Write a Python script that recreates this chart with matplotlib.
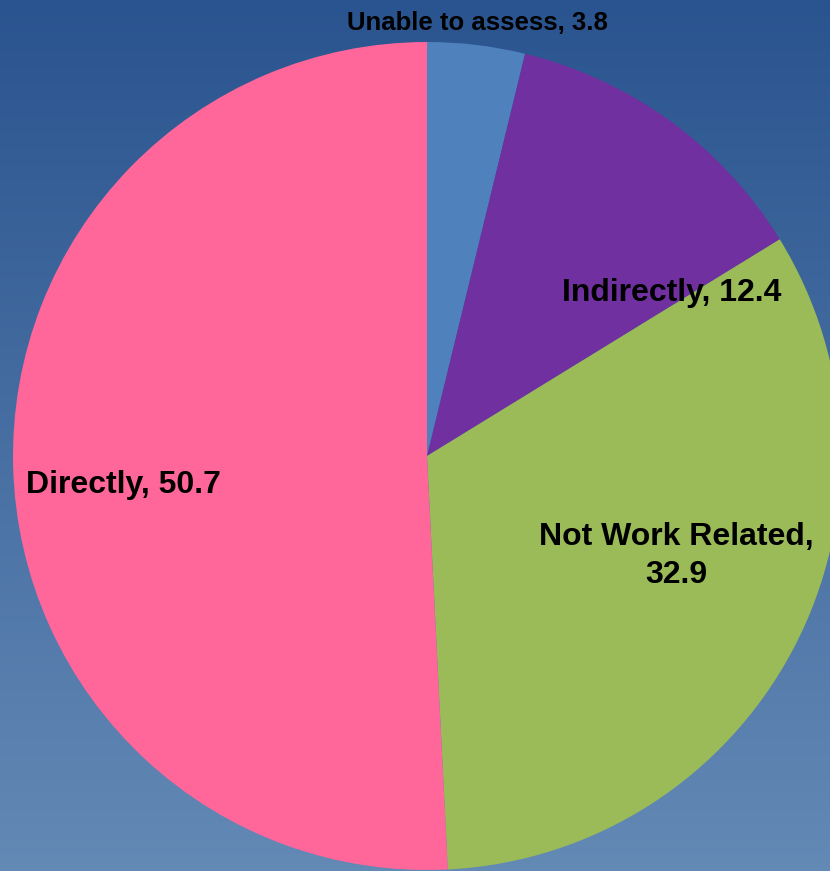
import numpy as np
import matplotlib
matplotlib.use('Agg')
import matplotlib.pyplot as plt
from matplotlib.colors import LinearSegmentedColormap

# data
categories = ['Unable to assess', 'Indirectly', 'Not Work Related', 'Directly']
values = [3.8, 12.4, 32.9, 50.7]
colors = ['#4f81bd', '#7030a0', '#9bbb59', '#ff6699']
label_texts = ['Unable to assess, 3.8', 'Indirectly, 12.4',
               'Not Work Related,\n32.9', 'Directly, 50.7']

plt.rcParams['font.family'] = ['Liberation Sans', 'DejaVu Sans']

W, H = 830, 871
fig = plt.figure(figsize=(W / 100, H / 100), dpi=100)

# gradient background
bg = fig.add_axes([0, 0, 1, 1])
cmap = LinearSegmentedColormap.from_list('bg', ['#2a548f', '#6389b5'])
grad = np.linspace(0, 1, 256).reshape(-1, 1)
bg.imshow(grad, aspect='auto', cmap=cmap, extent=[0, 1, 0, 1])
bg.axis('off')

# pie: centre ~ (427, 456) px, radius ~414 px
cx, cy, r = 427, 456, 414
ax = fig.add_axes([(cx - r) / W, (H - cy - r) / H, 2 * r / W, 2 * r / H])
ax.pie(values, colors=colors, startangle=90, counterclock=False,
       radius=1, wedgeprops=dict(linewidth=0))
ax.set_xlim(-1, 1)
ax.set_ylim(-1, 1)
ax.axis('off')


def px(x, y):
    return (x - cx) / r, (cy - y) / r


label_px = [(477, 23), (672, 293), (676, 556), (123, 485)]
sizes = [18.5, 23, 23, 23]
for txt, (lx, ly), fs in zip(label_texts, label_px, sizes):
    x, y = px(lx, ly)
    ax.text(x, y, txt, ha='center', va='center', fontsize=fs,
            fontweight='bold', color='black', clip_on=False,
            linespacing=1.35)

fig.savefig('out.png', dpi=100)
